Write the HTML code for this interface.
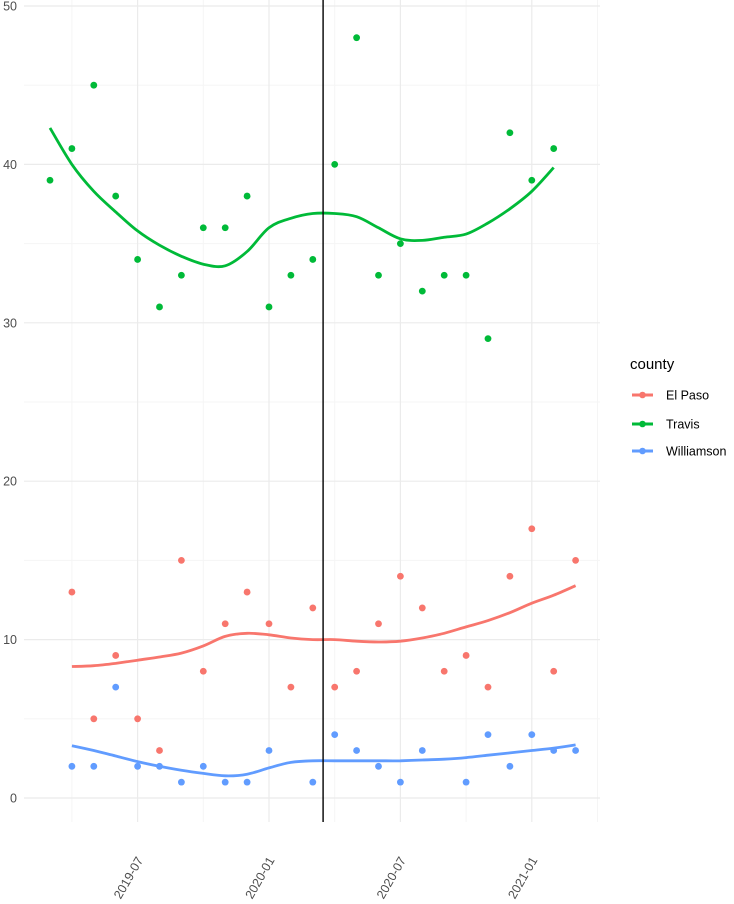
<!DOCTYPE html>
<html><head><meta charset="utf-8"><style>
body{margin:0;background:#fff}
svg{display:block;font-family:"Liberation Sans",sans-serif}
</style></head><body>
<svg id="chart" width="734" height="904"></svg>
<script>
const months = ["2019-03","2019-04","2019-05","2019-06","2019-07","2019-08","2019-09","2019-10","2019-11","2019-12","2020-01","2020-02","2020-03","2020-04","2020-05","2020-06","2020-07","2020-08","2020-09","2020-10","2020-11","2020-12","2021-01","2021-02","2021-03"];
const travis = [39,41,45,38,34,31,33,36,36,38,31,33,34,40,48,33,35,32,33,33,29,42,39,41,null];
const elPaso = [null,13,5,9,5,3,15,8,11,13,11,7,12,7,8,11,14,12,8,9,7,14,17,8,15];
const williamson = [null,2,2,7,2,2,1,2,1,1,3,null,1,4,3,2,1,3,null,1,4,2,4,3,3];
const travisSmooth = [42.3,40,38.3,37,35.8,34.9,34.2,33.7,33.6,34.5,36,36.6,36.9,36.9,36.7,36,35.3,35.2,35.4,35.6,36.3,37.2,38.3,39.8,null];
const elPasoSmooth = [null,8.3,8.35,8.5,8.7,8.9,9.15,9.6,10.2,10.4,10.3,10.1,10.0,10.0,9.9,9.85,9.9,10.1,10.4,10.8,11.2,11.7,12.3,12.8,13.4];
const williamsonSmooth = [null,3.3,3.0,2.65,2.3,2.0,1.75,1.55,1.4,1.5,1.9,2.25,2.35,2.35,2.35,2.35,2.35,2.4,2.45,2.55,2.7,2.85,3.0,3.15,3.35];
const yTicks = [0,10,20,30,40,50];
const xTickLabels = ["2019-07","2020-01","2020-07","2021-01"];
const xTickIdx = [4,10,16,22];
const vlineIdx = 12.47;

const NS="http://www.w3.org/2000/svg";
const svg=document.getElementById('chart');
const X=i=>50+i*21.9;
const Y=v=>798-v*15.84;
function mk(tag,attrs,parent){const e=document.createElementNS(NS,tag);for(const k in attrs)e.setAttribute(k,attrs[k]);(parent||svg).appendChild(e);return e;}
const L=24,R=600,T=0,B=822;
for(let v=5;v<=45;v+=10){const l=mk('line',{x1:L,x2:R,y1:Y(v),y2:Y(v),stroke:'#F5F5F5','stroke-width':1});

}
for(let i=1;i<=25;i+=6){const l=mk('line',{x1:X(i),x2:X(i),y1:T,y2:B,stroke:'#F5F5F5','stroke-width':1});

}
yTicks.forEach(v=>{const l=mk('line',{x1:L,x2:R,y1:Y(v),y2:Y(v),stroke:'#EBEBEB','stroke-width':1.2});


const t=mk('text',{x:17,y:Y(v)+4.5,'text-anchor':'end','font-size':12.5,fill:'#4D4D4D'});t.textContent=v;

});
xTickIdx.forEach((i,k)=>{const l=mk('line',{x1:X(i),x2:X(i),y1:T,y2:B,stroke:'#EBEBEB','stroke-width':1.2});


const t=mk('text',{x:0,y:0,'text-anchor':'end','font-size':12.5,fill:'#4D4D4D',transform:`translate(${X(i)+6},${B+38}) rotate(-60)`});t.textContent=xTickLabels[k];

});
function smoothPath(pts){let d='';for(let k=0;k<pts.length;k++){const p=pts[k];if(k===0){d+='M'+p[0]+','+p[1];continue;}
const p0=pts[k-2]||pts[k-1],p1=pts[k-1],p3=pts[k+1]||p;
const c1=[p1[0]+(p[0]-p0[0])/6,p1[1]+(p[1]-p0[1])/6],c2=[p[0]-(p3[0]-p1[0])/6,p[1]-(p3[1]-p1[1])/6];
d+=`C${c1[0].toFixed(1)},${c1[1].toFixed(1)} ${c2[0].toFixed(1)},${c2[1].toFixed(1)} ${p[0].toFixed(1)},${p[1].toFixed(1)}`;}return d;}
const series=[["el-paso",elPaso,elPasoSmooth,"#F8766D"],["travis",travis,travisSmooth,"#00BA38"],["williamson",williamson,williamsonSmooth,"#619CFF"]];
series.forEach(([name,pts,sm,col])=>{
  const pp=[];sm.forEach((v,i)=>{if(v!=null)pp.push([X(i),Y(v)]);});
  const p=mk('path',{d:smoothPath(pp),fill:'none',stroke:col,'stroke-width':2.8});
  
  
  pts.forEach((v,i)=>{if(v==null)return;const c=mk('circle',{cx:X(i),cy:Y(v),r:3.4,fill:col});
  
  });
});
const vl=mk('line',{x1:X(vlineIdx),x2:X(vlineIdx),y1:0,y2:B,stroke:'#000','stroke-width':1.4});


const lt=mk('text',{x:630,y:369,'font-size':15,fill:'#000'});lt.textContent='county';


[["El Paso","#F8766D",395],["Travis","#00BA38",424],["Williamson","#619CFF",451]].forEach(([n,c,y])=>{
  const g=mk('g',{});
  
  
  mk('line',{x1:632,x2:653,y1:y,y2:y,stroke:c,'stroke-width':3},g);
  mk('circle',{cx:642.5,cy:y,r:3.3,fill:c},g);
  const t=mk('text',{x:666,y:y+4.5,'font-size':12.5,fill:'#000'},g);t.textContent=n;
});
</script>
</body></html>
